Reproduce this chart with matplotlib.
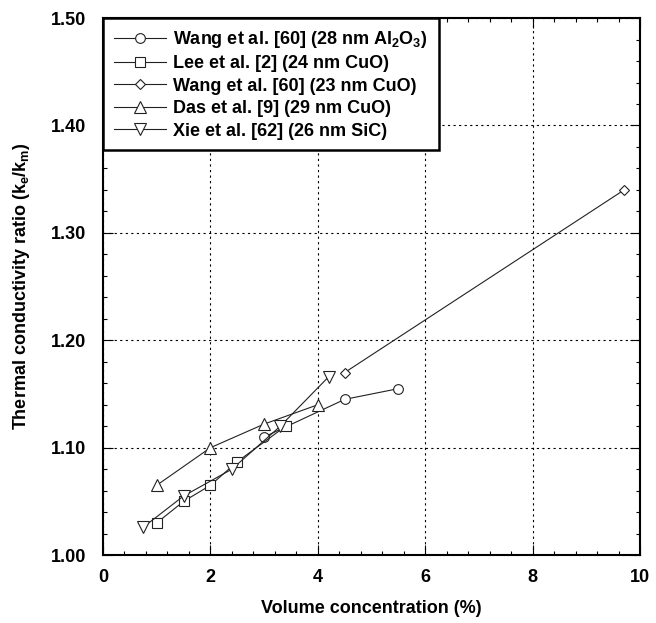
import matplotlib.pyplot as plt
from matplotlib.ticker import MultipleLocator

plt.rcParams['font.family'] = ['Liberation Sans', 'DejaVu Sans']
plt.rcParams['font.weight'] = 'bold'
plt.rcParams['mathtext.fontset'] = 'custom'
plt.rcParams['mathtext.rm'] = 'Liberation Sans:bold'
plt.rcParams['mathtext.it'] = 'Liberation Sans:bold'
plt.rcParams['mathtext.bf'] = 'Liberation Sans:bold'

# Wang et al. [60] (28 nm Al2O3)
wang_al_x = [3.0, 4.5, 5.5]
wang_al_y = [1.110, 1.145, 1.155]
# Lee et al. [2] (24 nm CuO)
lee_x = [1.0, 1.5, 2.0, 2.5, 3.4]
lee_y = [1.030, 1.050, 1.065, 1.087, 1.120]
# Wang et al. [60] (23 nm CuO)
wang_cu_x = [4.5, 9.7]
wang_cu_y = [1.170, 1.340]
# Das et al. [9] (29 nm CuO)
das_x = [1.0, 2.0, 3.0, 4.0]
das_y = [1.065, 1.100, 1.122, 1.140]
# Xie et al. [62] (26 nm SiC)
xie_x = [0.75, 1.5, 2.4, 3.3, 4.2]
xie_y = [1.026, 1.055, 1.080, 1.120, 1.166]

fig = plt.figure(figsize=(6.56, 6.23), dpi=100)
ax = fig.add_axes([0.157, 0.109, 0.819, 0.862])

style = dict(color='#222222', lw=0.8, mfc='white', mec='#222222', mew=0.8)
ax.plot(wang_al_x, wang_al_y, marker='o', ms=7,
        label='Wang et al. [60] (28 nm Al$_2$O$_3$)', **style)
ax.plot(lee_x, lee_y, marker='s', ms=7,
        label='Lee et al. [2] (24 nm CuO)', **style)
ax.plot(wang_cu_x, wang_cu_y, marker='D', ms=5,
        label='Wang et al. [60] (23 nm CuO)', **style)
ax.plot(das_x, das_y, marker='^', ms=8,
        label='Das et al. [9] (29 nm CuO)', **style)
ax.plot(xie_x, xie_y, marker='v', ms=8,
        label='Xie et al. [62] (26 nm SiC)', **style)

ax.set_xlim(0, 10)
ax.set_ylim(1.0, 1.5)
ax.xaxis.set_major_locator(MultipleLocator(2))
ax.xaxis.set_minor_locator(MultipleLocator(0.4))
ax.yaxis.set_major_locator(MultipleLocator(0.1))
ax.yaxis.set_minor_locator(MultipleLocator(0.02))
ax.yaxis.set_major_formatter(plt.FormatStrFormatter('%.2f'))

ax.tick_params(which='both', direction='in', top=True, right=True,
               labelsize=13)
ax.tick_params(axis='y', pad=12)
ax.tick_params(axis='x', pad=10)
ax.tick_params(which='major', length=7, width=0.8)
ax.tick_params(which='minor', length=3, width=0.8)
for s in ax.spines.values():
    s.set_linewidth(1.5)

ax.grid(which='major', color='black', linestyle=(0, (2, 3)), linewidth=0.8)

ax.set_xlabel('Volume concentration (%)', fontsize=13, fontweight='bold', labelpad=10)
ax.set_ylabel('Thermal conductivity ratio (k$_e$/k$_m$)', fontsize=13,
              fontweight='bold', labelpad=14)

leg = ax.legend(loc='upper left', borderaxespad=0, fontsize=13, fancybox=False,
                edgecolor='black', framealpha=1, handlelength=2.9,
                handletextpad=0.4, labelspacing=0.3, borderpad=0.6)
leg.get_frame().set_linewidth(1.8)
for t in leg.get_texts():
    t.set_fontweight('bold')

fig.savefig('out.png', dpi=100)
